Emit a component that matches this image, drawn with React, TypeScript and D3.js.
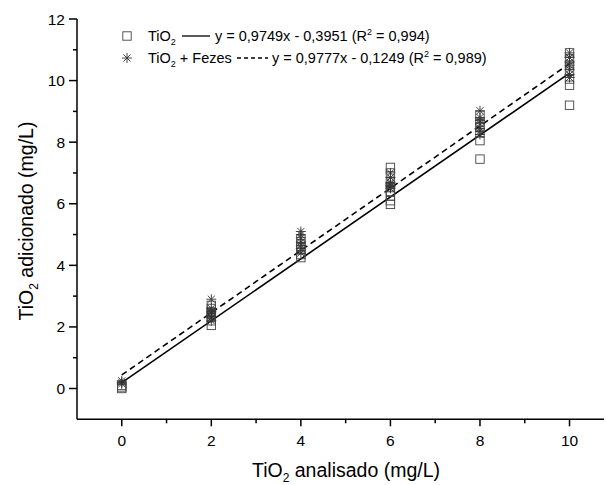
import React from "react";
import * as d3 from "d3";

const xTicks = [0, 2, 4, 6, 8, 10];
const xMinor = [1, 3, 5, 7, 9];
const yTicks = [0, 2, 4, 6, 8, 10, 12];
const yMinor = [1, 3, 5, 7, 9, 11];

// TiO2 (squares)
const tio2X = [0, 0, 0, 2, 2, 2, 2, 2, 2, 2, 4, 4, 4, 4, 4, 4, 6, 6, 6, 6, 6, 6, 6, 6, 8, 8, 8, 8, 8, 8, 10, 10, 10, 10, 10, 10, 10];
const tio2Y = [0.0, 0.05, 0.1, 2.05, 2.2, 2.3, 2.4, 2.5, 2.6, 2.7, 4.25, 4.35, 4.5, 4.6, 4.7, 4.85, 5.98, 6.1, 6.25, 6.4, 6.55, 6.7, 7.0, 7.18, 7.45, 8.05, 8.3, 8.5, 8.65, 8.87, 9.2, 9.85, 10.05, 10.3, 10.5, 10.7, 10.9];
// TiO2 + Fezes (asterisks)
const fezX = [0, 0, 0, 2, 2, 2, 2, 2, 2, 2, 4, 4, 4, 4, 4, 4, 4, 6, 6, 6, 6, 6, 6, 6, 8, 8, 8, 8, 8, 8, 8, 10, 10, 10, 10, 10, 10, 10];
const fezY = [0.15, 0.2, 0.25, 2.2, 2.3, 2.35, 2.45, 2.5, 2.6, 2.9, 4.4, 4.55, 4.65, 4.75, 4.9, 5.0, 5.1, 6.5, 6.55, 6.6, 6.65, 6.7, 6.85, 7.0, 8.25, 8.35, 8.45, 8.6, 8.7, 8.8, 9.02, 10.1, 10.2, 10.35, 10.5, 10.6, 10.75, 10.9];

// fitted lines as drawn
const solidLineX = [0, 10];
const solidLineY = [0.19, 10.24];
const dashLineX = [0, 10];
const dashLineY = [0.44, 10.55];

const legend1 = "y = 0,9749x - 0,3951 (R";
const legend1b = " = 0,994)";
const legend2 = "y = 0,9777x - 0,1249 (R";
const legend2b = " = 0,989)";

const W = 606;
const H = 485;
const FONT = "'Liberation Sans', Arial, sans-serif";

export default function App() {
  const x = d3.scaleLinear().domain([-1, 10.77]).range([77, 604]);
  const y = d3.scaleLinear().domain([-1, 12]).range([419.3, 19]);
  const line = d3
    .line<[number, number]>()
    .x((d) => x(d[0]))
    .y((d) => y(d[1]));

  const solid = solidLineX.map((v, i) => [v, solidLineY[i]] as [number, number]);
  const dashed = dashLineX.map((v, i) => [v, dashLineY[i]] as [number, number]);

  const sq = 4.2;
  const st = 5;
  const star = (cx: number, cy: number, k: string, color: string) => {
    const a = st * Math.cos(Math.PI / 4);
    return (
      <g key={k} stroke={color} strokeWidth={0.9}>
        <line x1={cx} y1={cy - st} x2={cx} y2={cy + st} />
        <line x1={cx - a} y1={cy - a} x2={cx + a} y2={cy + a} />
        <line x1={cx - a} y1={cy + a} x2={cx + a} y2={cy - a} />
        <line x1={cx - st} y1={cy} x2={cx + st} y2={cy} />
      </g>
    );
  };

  return (
    <svg
      width={W}
      height={H}
      style={{ position: "absolute", left: 0, top: 0, background: "#fff" }}
      fontFamily={FONT}
    >
      <rect width={W} height={H} fill="#fff" />
      {/* axes */}
      <line x1={x(-1)} y1={y(-1)} x2={x(10.77)} y2={y(-1)} stroke="#000" strokeWidth={1.5} />
      <line x1={x(-1)} y1={y(-1)} x2={x(-1)} y2={y(12)} stroke="#000" strokeWidth={1.5} />
      {xTicks.map((t) => (
        <g key={"xt" + t}>
          <line x1={x(t)} x2={x(t)} y1={y(-1)} y2={y(-1) + 7} stroke="#000" strokeWidth={1.5} />
          <text x={x(t)} y={y(-1) + 27} fontSize={15.5} textAnchor="middle" fill="#000">
            {t}
          </text>
        </g>
      ))}
      {xMinor.map((t) => (
        <line key={"xm" + t} x1={x(t)} x2={x(t)} y1={y(-1)} y2={y(-1) + 4} stroke="#000" strokeWidth={1.5} />
      ))}
      {yTicks.map((t) => (
        <g key={"yt" + t}>
          <line x1={x(-1) - 8} x2={x(-1)} y1={y(t)} y2={y(t)} stroke="#000" strokeWidth={1.5} />
          <text x={x(-1) - 12} y={y(t) + 5.5} fontSize={15.5} textAnchor="end" fill="#000">
            {t}
          </text>
        </g>
      ))}
      {yMinor.map((t) => (
        <line key={"ym" + t} x1={x(-1) - 4} x2={x(-1)} y1={y(t)} y2={y(t)} stroke="#000" strokeWidth={1.5} />
      ))}

      {/* axis titles */}
      <text x={346} y={477} fontSize={19.5} textAnchor="middle" fill="#000">
        TiO<tspan fontSize={12} dy={5}>2</tspan>
        <tspan dy={-5}> analisado (mg/L)</tspan>
      </text>
      <text
        transform={`translate(33,221) rotate(-90)`}
        fontSize={19.5}
        textAnchor="middle"
        fill="#000"
      >
        TiO<tspan fontSize={12} dy={5}>2</tspan>
        <tspan dy={-5}> adicionado (mg/L)</tspan>
      </text>

      {/* fit lines */}
      <path d={line(solid) || ""} fill="none" stroke="#000" strokeWidth={1.6} />
      <path d={line(dashed) || ""} fill="none" stroke="#000" strokeWidth={1.6} strokeDasharray="6,4" />

      {/* points */}
      {tio2X.map((v, i) => (
        <rect
          key={"s" + i}
          x={x(v) - sq}
          y={y(tio2Y[i]) - sq}
          width={sq * 2}
          height={sq * 2}
          fill="none"
          stroke="#444"
          strokeWidth={0.9}
        />
      ))}
      {fezX.map((v, i) => star(x(v), y(fezY[i]), "f" + i, "#333"))}

      {/* legend */}
      <rect x={127 - sq} y={36 - sq} width={sq * 2} height={sq * 2} fill="none" stroke="#444" strokeWidth={0.9} />
      <text x={148} y={41} fontSize={14.5} fill="#000">
        TiO<tspan fontSize={9} dy={4}>2</tspan>
      </text>
      <line x1={182} x2={210} y1={36} y2={36} stroke="#000" strokeWidth={1.3} />
      <text x={215} y={41} fontSize={14.5} fill="#000">
        {legend1}
        <tspan fontSize={9} dy={-6}>2</tspan>
        <tspan dy={6}>{legend1b}</tspan>
      </text>

      {star(127, 58, "leg", "#333")}
      <text x={148} y={63} fontSize={14.5} fill="#000">
        TiO<tspan fontSize={9} dy={4}>2</tspan>
        <tspan dy={-4}> + Fezes</tspan>
      </text>
      <line x1={237} x2={268} y1={58} y2={58} stroke="#000" strokeWidth={1.3} strokeDasharray="4,3" />
      <text x={272} y={63} fontSize={14.5} fill="#000">
        {legend2}
        <tspan fontSize={9} dy={-6}>2</tspan>
        <tspan dy={6}>{legend2b}</tspan>
      </text>
    </svg>
  );
}
